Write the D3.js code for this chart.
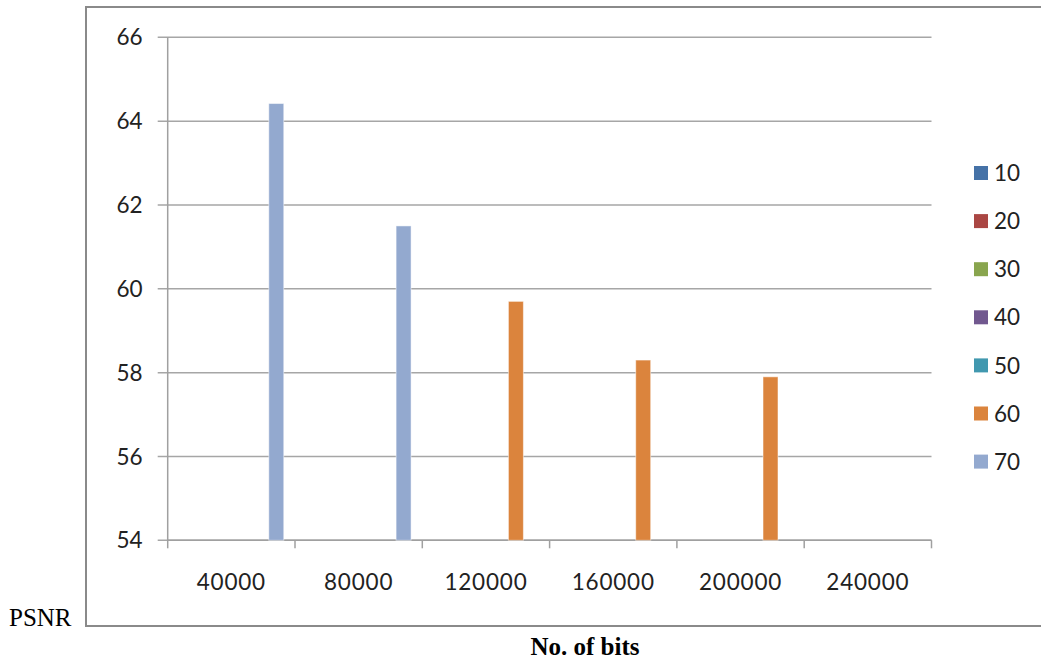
<!DOCTYPE html>
<html>
<head>
<meta charset="utf-8">
<script src="https://cdn.jsdelivr.net/npm/d3@7"></script>
<style>
  html, body { margin: 0; padding: 0; background: #fff; }
  svg { display: block; }
</style>
</head>
<body>
<svg id="chart" width="1041" height="662"></svg>
<script>
// Categories on the x axis (number of bits)
const categories = ["40000", "80000", "120000", "160000", "200000", "240000"];
// Series names shown in the legend
const seriesNames = ["10", "20", "30", "40", "50", "60", "70"];
// PSNR values per series, one entry per category (null = no bar)
const s10 = [null, null, null, null, null, null];
const s20 = [null, null, null, null, null, null];
const s30 = [null, null, null, null, null, null];
const s40 = [null, null, null, null, null, null];
const s50 = [null, null, null, null, null, null];
const s60 = [null, null, 59.7, 58.3, 57.9, null];
const s70 = [64.42, 61.5, null, null, null, null];
const seriesValues = [s10, s20, s30, s40, s50, s60, s70];
const seriesColors = ["#4572A7", "#AA4643", "#89A54E", "#71588F", "#4198AF", "#DB843D", "#93A9CF"];
const yTicks = [54, 56, 58, 60, 62, 64, 66];

const svg = d3.select("#chart");
const font = "Lato, 'Open Sans', sans-serif";

// Outer chart frame (right edge runs off the page)
svg.append("path")
  .attr("d", "M1045,7 H86 V626 H1045")
  .attr("fill", "none")
  .attr("stroke", "#8a8a8a")
  .attr("stroke-width", 2);

const plot = { left: 167.7, right: 931.5, top: 37.3, bottom: 540.3 };

const x0 = d3.scaleBand()
  .domain(categories)
  .range([plot.left, plot.right])
  .paddingInner(0)
  .paddingOuter(0);

// bar width = band / (7 bars + 1.5 gap)
const barW = x0.bandwidth() / (seriesNames.length + 1.5);
const x1 = d3.scaleBand()
  .domain(seriesNames)
  .range([0.75 * barW, 0.75 * barW + barW * seriesNames.length]);

const y = d3.scaleLinear().domain([54, 66]).range([plot.bottom, plot.top]);

// Horizontal gridlines with outward tick stubs
svg.append("g")
  .selectAll("line")
  .data(yTicks)
  .join("line")
  .attr("x1", plot.left - 10)
  .attr("x2", plot.right)
  .attr("y1", d => y(d))
  .attr("y2", d => y(d))
  .attr("stroke", "#a6a6a6")
  .attr("stroke-width", 1.5);

// Y axis line
svg.append("line")
  .attr("x1", plot.left).attr("x2", plot.left)
  .attr("y1", plot.top).attr("y2", plot.bottom)
  .attr("stroke", "#a0a0a0").attr("stroke-width", 1.5);

// Y tick labels
svg.append("g")
  .selectAll("text")
  .data(yTicks)
  .join("text")
  .attr("x", 142.5)
  .attr("y", d => y(d))
  .attr("dy", "0.36em")
  .attr("text-anchor", "end")
  .attr("font-family", font)
  .attr("font-size", 22.5)
  .attr("fill", "#222")
  .text(d => d);

// X axis ticks at category boundaries
const boundaries = categories.map(c => x0(c)).concat([plot.right]);
svg.append("g")
  .selectAll("line")
  .data(boundaries)
  .join("line")
  .attr("x1", d => d).attr("x2", d => d)
  .attr("y1", plot.bottom).attr("y2", plot.bottom + 8)
  .attr("stroke", "#a0a0a0").attr("stroke-width", 1.5);

// X axis baseline
svg.append("line")
  .attr("x1", plot.left).attr("x2", plot.right)
  .attr("y1", plot.bottom).attr("y2", plot.bottom)
  .attr("stroke", "#a0a0a0").attr("stroke-width", 1.5);

// X tick labels
svg.append("g")
  .selectAll("text")
  .data(categories)
  .join("text")
  .attr("x", d => x0(d) + x0.bandwidth() / 2)
  .attr("y", 581.5)
  .attr("dy", "0.36em")
  .attr("text-anchor", "middle")
  .attr("font-family", font)
  .attr("font-size", 22.5)
  .attr("letter-spacing", 0.8)
  .attr("fill", "#222")
  .text(d => d);

// Bars
const barData = [];
seriesValues.forEach((vals, si) => {
  vals.forEach((v, ci) => {
    if (v !== null) barData.push({ cat: categories[ci], series: seriesNames[si], value: v, color: seriesColors[si] });
  });
});
svg.append("g")
  .selectAll("rect")
  .data(barData)
  .join("rect")
  .attr("x", d => x0(d.cat) + x1(d.series))
  .attr("width", x1.bandwidth())
  .attr("y", d => y(d.value))
  .attr("height", d => y(54) - y(d.value))
  .attr("fill", d => d.color)
  .attr("stroke", "rgba(255,255,255,0.5)")
  .attr("stroke-width", 1);

// Legend
const legend = svg.append("g")
  .selectAll("g")
  .data(seriesNames)
  .join("g")
  .attr("transform", (d, i) => `translate(974, ${173 + i * 48.1})`);
legend.append("rect")
  .attr("x", 0).attr("y", -7)
  .attr("width", 14).attr("height", 14)
  .attr("fill", (d, i) => seriesColors[i]);
legend.append("text")
  .attr("x", 20)
  .attr("y", 0)
  .attr("dy", "0.36em")
  .attr("font-family", font)
  .attr("font-size", 22.5)
  .attr("fill", "#222")
  .text(d => d);

// Axis captions
svg.append("text")
  .attr("x", 9).attr("y", 626)
  .attr("font-family", "'Liberation Serif', 'Times New Roman', serif")
  .attr("font-size", 25)
  .attr("fill", "#000")
  .text("PSNR");

svg.append("text")
  .attr("x", 585).attr("y", 655)
  .attr("text-anchor", "middle")
  .attr("font-family", "'Liberation Serif', 'Times New Roman', serif")
  .attr("font-weight", "bold")
  .attr("font-size", 25)
  .attr("fill", "#000")
  .text("No. of bits");
</script>
</body>
</html>
